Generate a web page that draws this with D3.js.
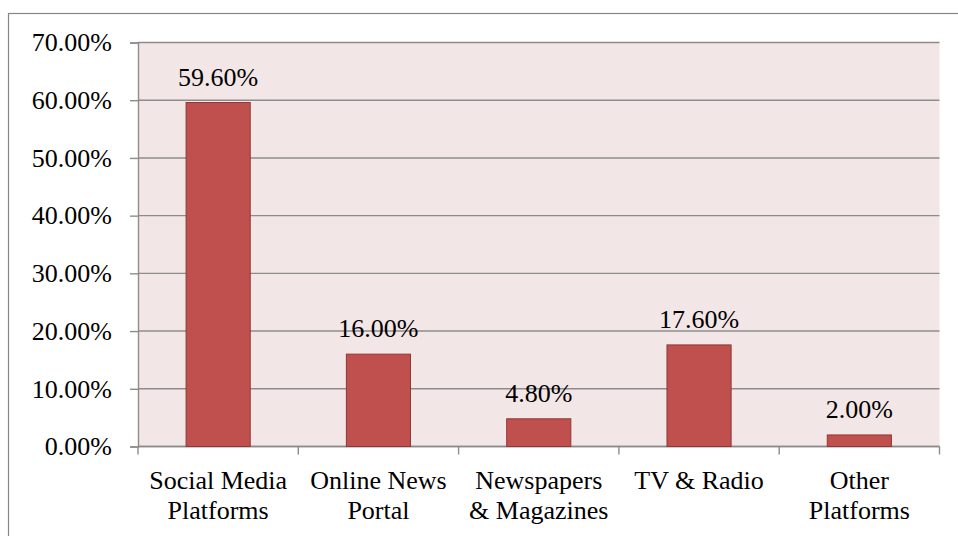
<!DOCTYPE html>
<html>
<head>
<meta charset="utf-8">
<script src="https://cdn.jsdelivr.net/npm/d3@7"></script>
<style>
  html, body { margin: 0; padding: 0; background: #ffffff; }
  svg { display: block; }
  text { font-family: "Liberation Serif", "DejaVu Serif", serif; fill: #000; }
</style>
</head>
<body>
<svg id="chart" width="958" height="536"></svg>
<script>
// Share of respondents by main news source
const categories = [["Social Media", "Platforms"], ["Online News", "Portal"], ["Newspapers", "& Magazines"], ["TV & Radio"], ["Other", "Platforms"]];
const values = [59.6, 16.0, 4.8, 17.6, 2.0];
const yTicks = [0, 10, 20, 30, 40, 50, 60, 70];

const W = 958, H = 536;
const FONT = 26;
const plot = { left: 138, top: 42.5, right: 939.5, bottom: 446.5 };

const svg = d3.select("#chart");

// outer chart frame (left and top edges only visible)
svg.append("rect")
  .attr("x", 8.5).attr("y", 13.5)
  .attr("width", W + 10).attr("height", H + 10)
  .attr("fill", "none").attr("stroke", "#868686").attr("stroke-width", 1.2);

const x = d3.scaleBand()
  .domain(d3.range(categories.length))
  .range([plot.left, plot.right])
  .paddingInner(0.6).paddingOuter(0.3);

const y = d3.scaleLinear().domain([0, 70]).range([plot.bottom, plot.top]);

// plot background
svg.append("rect")
  .attr("x", plot.left).attr("y", plot.top)
  .attr("width", plot.right - plot.left).attr("height", plot.bottom - plot.top)
  .attr("fill", "#f2e6e6");

// horizontal gridlines
svg.append("g").selectAll("line").data(yTicks).join("line")
  .attr("x1", plot.left).attr("x2", plot.right)
  .attr("y1", d => y(d)).attr("y2", d => y(d))
  .attr("stroke", "#8c8c8c").attr("stroke-width", 1.4);

// y axis
const yAxis = svg.append("g")
  .attr("transform", `translate(${plot.left},0)`)
  .call(d3.axisLeft(y).tickValues(yTicks).tickSize(8).tickPadding(18)
    .tickFormat(d => d3.format(".2f")(d) + "%"));
yAxis.select(".domain").attr("stroke", "#8c8c8c").attr("stroke-width", 1.4);
yAxis.selectAll(".tick line").attr("stroke", "#8c8c8c").attr("stroke-width", 1.4);
yAxis.selectAll(".tick text")
  .attr("font-size", FONT).attr("font-family", "Liberation Serif").attr("fill", "#000");

// x axis: baseline with category boundary ticks
const boundaries = d3.range(categories.length + 1).map(i => plot.left + i * (plot.right - plot.left) / categories.length);
svg.append("line")
  .attr("x1", plot.left).attr("x2", plot.right)
  .attr("y1", plot.bottom).attr("y2", plot.bottom)
  .attr("stroke", "#8c8c8c").attr("stroke-width", 1.4);
svg.append("g").selectAll("line").data(boundaries).join("line")
  .attr("x1", d => d).attr("x2", d => d)
  .attr("y1", plot.bottom).attr("y2", plot.bottom + 8)
  .attr("stroke", "#8c8c8c").attr("stroke-width", 1.4);

// bars
svg.append("g").selectAll("rect").data(values).join("rect")
  .attr("x", (d, i) => x(i)).attr("width", x.bandwidth())
  .attr("y", d => y(d)).attr("height", d => y(0) - y(d))
  .attr("fill", "#c0504d").attr("stroke", "#8c3836").attr("stroke-width", 1);

// value labels
svg.append("g").selectAll("text").data(values).join("text")
  .attr("x", (d, i) => x(i) + x.bandwidth() / 2)
  .attr("y", d => y(d) - 17)
  .attr("text-anchor", "middle").attr("font-size", FONT)
  .text(d => d3.format(".2f")(d) + "%");

// category labels
const catG = svg.append("g").selectAll("text").data(categories).join("text")
  .attr("x", (d, i) => x(i) + x.bandwidth() / 2)
  .attr("y", 489)
  .attr("text-anchor", "middle").attr("font-size", FONT);
catG.selectAll("tspan").data(d => d).join("tspan")
  .attr("x", function () { return d3.select(this.parentNode).attr("x"); })
  .attr("dy", (d, i) => i === 0 ? 0 : 30)
  .text(d => d);
</script>
</body>
</html>
